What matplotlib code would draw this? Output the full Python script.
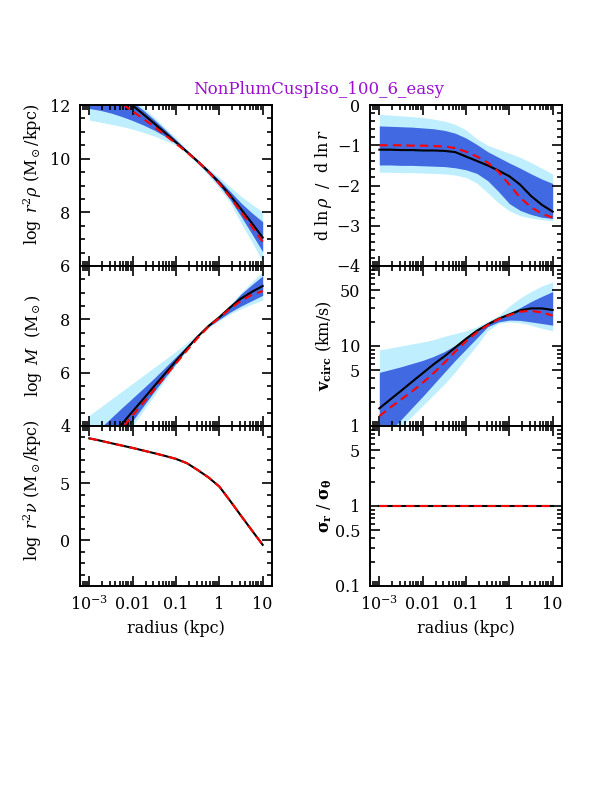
import matplotlib
matplotlib.use("Agg")
import matplotlib.pyplot as plt
from matplotlib.ticker import FixedLocator, FixedFormatter, LogLocator, MultipleLocator, NullFormatter
import numpy as np

plt.rcParams['font.family'] = ['DejaVu Serif']
plt.rcParams['mathtext.fontset'] = 'dejavuserif'
plt.rcParams['font.size'] = 11.5

title = "NonPlumCuspIso_100_6_easy"

# log10 radius (kpc) at which the curves were read
logr = [-3, -2.75, -2.5, -2.25, -2, -1.75, -1.5, -1.25, -1, -0.75, -0.5, -0.25, 0, 0.25, 0.5, 0.75, 1]

# log r^2 rho
rho_med = [13.3, 12.98, 12.65, 12.32, 11.98, 11.65, 11.31, 10.96, 10.61, 10.26, 9.9, 9.52, 9.1, 8.63, 8.12, 7.6, 7.06]
rho_true = [12.9, 12.62, 12.33, 12.05, 11.76, 11.48, 11.19, 10.88, 10.56, 10.24, 9.9, 9.51, 9.06, 8.56, 8.02, 7.47, 6.9]
rho_lo2 = [11.44, 11.36, 11.28, 11.2, 11.1, 10.98, 10.84, 10.68, 10.5, 10.18, 9.8, 9.38, 8.9, 8.35, 7.6, 6.9, 6.15]
rho_hi2 = [13.5, 13.3, 13.0, 12.6, 12.25, 11.9, 11.55, 11.15, 10.78, 10.35, 9.98, 9.62, 9.3, 8.95, 8.6, 8.3, 8.02]
rho_lo1 = [11.87, 11.8, 11.7, 11.57, 11.42, 11.25, 11.06, 10.83, 10.56, 10.23, 9.84, 9.44, 9.0, 8.48, 7.85, 7.2, 6.53]
rho_hi1 = [13.4, 13.1, 12.78, 12.45, 12.12, 11.8, 11.45, 11.08, 10.7, 10.31, 9.95, 9.58, 9.2, 8.78, 8.35, 7.98, 7.65]

# d ln rho / d ln r
slope_med = [-1.11, -1.11, -1.12, -1.12, -1.13, -1.13, -1.14, -1.17, -1.28, -1.39, -1.5, -1.63, -1.77, -1.98, -2.26, -2.48, -2.65]
slope_true = [-1.0, -1.0, -1.0, -1.01, -1.01, -1.02, -1.03, -1.07, -1.16, -1.28, -1.43, -1.66, -1.98, -2.3, -2.54, -2.7, -2.8]
slope_lo2 = [-1.67, -1.67, -1.68, -1.68, -1.69, -1.7, -1.71, -1.74, -1.8, -1.94, -2.18, -2.43, -2.63, -2.75, -2.81, -2.85, -2.88]
slope_hi2 = [-0.23, -0.25, -0.27, -0.29, -0.31, -0.35, -0.4, -0.48, -0.62, -0.84, -1.0, -1.1, -1.2, -1.3, -1.43, -1.57, -1.72]
slope_lo1 = [-1.49, -1.49, -1.5, -1.5, -1.51, -1.52, -1.53, -1.56, -1.61, -1.7, -1.88, -2.15, -2.45, -2.62, -2.72, -2.79, -2.82]
slope_hi1 = [-0.52, -0.53, -0.54, -0.55, -0.57, -0.59, -0.63, -0.7, -0.82, -0.98, -1.16, -1.3, -1.44, -1.57, -1.71, -1.84, -1.95]

# log M
mass_med = [2.65, 3.12, 3.6, 4.07, 4.55, 5.02, 5.5, 5.97, 6.44, 6.9, 7.35, 7.75, 8.08, 8.45, 8.78, 9.03, 9.25]
mass_true = [2.45, 2.93, 3.42, 3.9, 4.4, 4.88, 5.37, 5.86, 6.35, 6.83, 7.3, 7.72, 8.06, 8.4, 8.7, 8.92, 9.06]
mass_lo2 = [1.5, 2.3, 2.9, 3.45, 4.0, 4.58, 5.15, 5.72, 6.3, 6.85, 7.38, 7.7, 7.95, 8.2, 8.4, 8.57, 8.72]
mass_hi2 = [4.4, 4.7, 5.0, 5.3, 5.6, 5.9, 6.2, 6.5, 6.8, 7.12, 7.45, 7.8, 8.15, 8.55, 9.0, 9.4, 9.8]
mass_lo1 = [2.0, 2.65, 3.2, 3.7, 4.2, 4.75, 5.3, 5.83, 6.35, 6.87, 7.38, 7.72, 8.0, 8.27, 8.5, 8.7, 8.9]
mass_hi1 = [3.55, 3.92, 4.3, 4.68, 5.05, 5.42, 5.8, 6.2, 6.6, 7.0, 7.42, 7.78, 8.12, 8.52, 8.95, 9.3, 9.63]

# v_circ (km/s)
vc_med = [1.66, 2.14, 2.75, 3.55, 4.57, 5.89, 7.41, 9.55, 12.3, 15.5, 18.6, 21.9, 24.8, 27.9, 29.5, 29.5, 28.2]
vc_true = [1.33, 1.70, 2.14, 2.69, 3.47, 4.57, 6.17, 8.51, 11.5, 14.8, 18.2, 21.6, 24.3, 26.9, 27.5, 26.3, 24.0]
vc_lo2 = [0.50, 0.71, 0.98, 1.32, 1.80, 2.45, 3.35, 4.73, 7.0, 10.2, 15.5, 19.1, 20.0, 19.5, 18.2, 16.6, 15.5]
vc_hi2 = [8.91, 9.44, 10.0, 10.6, 11.2, 12.0, 13.2, 14.3, 15.5, 17.4, 20.4, 24.0, 31.6, 39.8, 47.9, 56.2, 63.1]
vc_lo1 = [0.62, 0.86, 1.20, 1.68, 2.34, 3.31, 4.68, 6.61, 9.12, 12.6, 17.4, 20.0, 21.1, 20.9, 20.0, 19.1, 18.2]
vc_hi1 = [4.68, 5.07, 5.50, 6.03, 6.61, 7.41, 8.51, 10.2, 12.9, 15.8, 19.5, 22.6, 25.7, 30.2, 35.9, 41.7, 47.9]

# log r^2 nu (tracer)
nu_med = [8.92, 8.72, 8.5, 8.29, 8.08, 7.85, 7.62, 7.38, 7.12, 6.75, 6.15, 5.5, 4.7, 3.45, 2.15, 0.87, -0.4]
nu_true = nu_med

# sigma_r / sigma_theta
aniso_med = [1.0] * len(logr)
aniso_true = [1.0] * len(logr)

xtick_vals = [1e-3, 1e-2, 1e-1, 1, 10]
xtick_labels = ['$10^{-3}$', '0.01', '0.1', '1', '10']

light = '#bfefff'
dark = '#4169e1'

r = 10.0 ** np.array(logr)

fig = plt.figure(figsize=(6.12, 7.92), dpi=100)

W = 192 / 612
lefts = [80 / 612, 370 / 612]
rows = [(105, 266), (266, 426), (426, 586)]

panels = [
    dict(lo2=rho_lo2, hi2=rho_hi2, lo1=rho_lo1, hi1=rho_hi1, med=rho_med, true=rho_true,
         ylim=(6, 12), ticks=[6, 8, 10, 12], labels=['6', '8', '10', '12'], minor=0.5, log=False,
         ylabel=r'$\log\ r^2\rho\ (\mathrm{M_\odot/kpc})$', ly=0.57),
    dict(lo2=slope_lo2, hi2=slope_hi2, lo1=slope_lo1, hi1=slope_hi1, med=slope_med, true=slope_true,
         ylim=(-4, 0), ticks=[-4, -3, -2, -1, 0], labels=['$-4$', '$-3$', '$-2$', '$-1$', '0'], minor=0.2, log=False,
         ylabel=r'$\mathrm{d}\ \ln\rho\ \ /\ \ \mathrm{d}\ \ln r$', ly=0.5),
    dict(lo2=mass_lo2, hi2=mass_hi2, lo1=mass_lo1, hi1=mass_hi1, med=mass_med, true=mass_true,
         ylim=(4, 10), ticks=[4, 6, 8, 10], labels=['4', '6', '8', ''], minor=0.5, log=False,
         ylabel=r'$\log\ \mathbf{\mathit{M}}\ \ (\mathrm{M_\odot})$', ly=0.5),
    dict(lo2=vc_lo2, hi2=vc_hi2, lo1=vc_lo1, hi1=vc_hi1, med=vc_med, true=vc_true,
         ylim=(1, 100), ticks=[1, 5, 10, 50, 100], labels=['1', '5', '10', '50', ''], minor=None, log=True,
         ylabel=r'$\mathbf{v_{circ}}\ (\mathrm{km/s})$', ly=0.5),
    dict(med=nu_med, true=nu_true,
         ylim=(-4, 10), ticks=[0, 5, 10], labels=['0', '5', ''], minor=1, log=False,
         ylabel=r'$\log\ r^2\nu\ (\mathrm{M_\odot/kpc})$', ly=0.6),
    dict(med=aniso_med, true=aniso_true,
         ylim=(0.1, 10), ticks=[0.1, 0.5, 1, 5, 10], labels=['0.1', '0.5', '1', '5', ''], minor=None, log=True,
         ylabel=r'$\mathbf{\sigma_r}\ /\ \mathbf{\sigma_\theta}$', ly=0.5),
]

for i, p in enumerate(panels):
    row, col = divmod(i, 2)
    top, bot = rows[row]
    ax = fig.add_axes([lefts[col], (792 - bot) / 792, W, (bot - top) / 792])
    ax.set_xscale('log')
    if p['log']:
        ax.set_yscale('log')
    if 'lo2' in p:
        ax.fill_between(r, p['lo2'], p['hi2'], color=light, lw=0)
        ax.fill_between(r, p['lo1'], p['hi1'], color=dark, lw=0)
    ax.plot(r, p['med'], color='black', lw=1.5)
    ax.plot(r, p['true'], color='red', lw=1.5, dashes=(4, 2.5))

    ax.set_xlim(10 ** -3.215, 10 ** 1.215)
    ax.set_ylim(*p['ylim'])
    ax.xaxis.set_major_locator(FixedLocator(xtick_vals))
    ax.xaxis.set_minor_locator(LogLocator(base=10, subs=np.arange(2, 10), numticks=20))
    ax.xaxis.set_minor_formatter(NullFormatter())
    if row == 2:
        ax.xaxis.set_major_formatter(FixedFormatter(xtick_labels))
        ax.set_xlabel('radius (kpc)', labelpad=4)
    else:
        ax.xaxis.set_major_formatter(NullFormatter())

    ax.yaxis.set_major_locator(FixedLocator(p['ticks']))
    ax.yaxis.set_major_formatter(FixedFormatter(p['labels']))
    if p['log']:
        ax.yaxis.set_minor_locator(LogLocator(base=10, subs=(2, 3, 4, 6, 7, 8, 9), numticks=20))
    else:
        ax.yaxis.set_minor_locator(MultipleLocator(p['minor']))
    ax.yaxis.set_minor_formatter(NullFormatter())

    ax.tick_params(which='both', direction='in', top=True, right=True, width=1.2)
    ax.tick_params(which='major', length=7, pad=7)
    ax.tick_params(which='minor', length=3.5)
    for s in ax.spines.values():
        s.set_linewidth(1.4)
    ax.set_ylabel(p['ylabel'])
    ax.yaxis.set_label_coords(-0.19, p['ly'])

fig.text(0.521, 1 - 89 / 792, title, color='#9a10d0', ha='center', va='center', fontsize=12)

fig.savefig('out.png', dpi=100)
